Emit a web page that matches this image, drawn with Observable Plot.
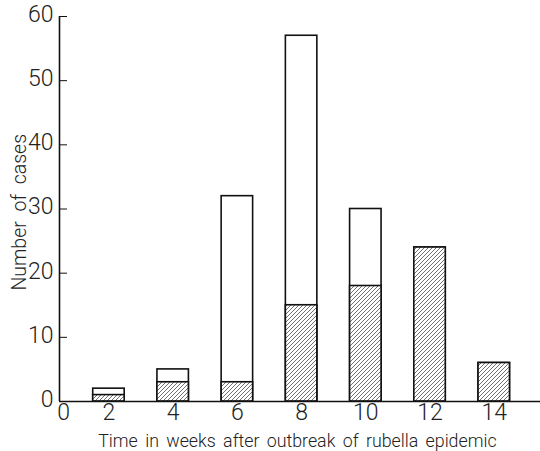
<!DOCTYPE html>
<html>
<head>
<meta charset="utf-8">
<script src="https://cdn.jsdelivr.net/npm/d3@7"></script>
<script src="https://cdn.jsdelivr.net/npm/@observablehq/plot@0.6"></script>
<style>
  html, body { margin: 0; padding: 0; background: #fff; }
  #chart svg { display: block; }
  .xtitle text { word-spacing: 3px; }
  .ytitle text { word-spacing: 5px; }
</style>
</head>
<body>
<div id="chart"></div>
<script>
// Data
const weeks = [2, 4, 6, 8, 10, 12, 14];
const totalCases = [2, 5, 32, 57, 30, 24, 6];
const hatchedCases = [1, 3, 3, 15, 18, 24, 6];
const xTicks = [2, 4, 6, 8, 10, 12, 14];
const yTicks = [0, 10, 20, 30, 40, 50, 60];
const xTitle = "Time in weeks after outbreak of rubella epidemic";
const yTitle = "Number of cases";

const rows = weeks.map((w, i) => ({week: w, total: totalCases[i], hatched: hatchedCases[i]}));
const xMin = 0.46, xMax = 15.44;
const half = 0.49;
const font = "Roboto, 'Liberation Sans', sans-serif";

const chart = Plot.plot({
  width: 540,
  height: 451,
  marginLeft: 59,
  marginRight: 0,
  marginTop: 16,
  marginBottom: 50,
  style: {fontFamily: font, background: "#fff", color: "#222", fontWeight: 300},
  x: {domain: [xMin, xMax], axis: null},
  y: {domain: [0, 60], axis: null},
  marks: [
    Plot.rectY(rows, {x1: d => d.week - half, x2: d => d.week + half, y1: 0, y2: "total", fill: "white", stroke: "#111", strokeWidth: 1.6}),
    Plot.rectY(rows, {x1: d => d.week - half, x2: d => d.week + half, y1: 0, y2: "hatched", fill: "url(#hatch)", stroke: "#111", strokeWidth: 1.6}),
    Plot.ruleX([xMin], {y1: 0, y2: 60, stroke: "#111", strokeWidth: 1.6}),
    Plot.ruleY([0], {x1: xMin, x2: xMax, stroke: "#111", strokeWidth: 1.4}),
    Plot.ruleY(yTicks.filter(d => d > 0), {x1: xMin, x2: xMin + 0.25, stroke: "#111", strokeWidth: 1}),
    Plot.text(yTicks, {x: xMin, y: d => d, text: d => String(d), textAnchor: "end", dx: -6, dy: -2, fontSize: 23, fill: "#222"}),
    Plot.text(xTicks, {x: d => d, y: 0, text: d => String(d), lineAnchor: "top", dy: 2, fontSize: 23, fill: "#222"}),
    Plot.text([0], {x: xMin, y: 0, text: d => String(d), lineAnchor: "top", dy: 2, dx: 4, fontSize: 23, fill: "#222"}),
    Plot.text([xTitle], {x: 7.87, y: 0, text: d => d, lineAnchor: "bottom", dy: 45, fontSize: 17.8, fill: "#222", className: "xtitle"}),
    Plot.text([yTitle], {x: xMin, y: 29.5, text: d => d, rotate: -90, lineAnchor: "bottom", dx: -34, fontSize: 19.5, fill: "#222", className: "ytitle"})
  ]
});

const svg = d3.select(chart);
const defs = svg.insert("defs", ":first-child");
const pat = defs.append("pattern")
  .attr("id", "hatch")
  .attr("patternUnits", "userSpaceOnUse")
  .attr("width", 4).attr("height", 4);
pat.append("rect").attr("width", 4).attr("height", 4).attr("fill", "white");
pat.append("path")
  .attr("d", "M-1,1 l2,-2 M0,4 l4,-4 M3,5 l2,-2")
  .attr("stroke", "#333").attr("stroke-width", 0.7);

document.getElementById("chart").appendChild(chart);
</script>
</body>
</html>
